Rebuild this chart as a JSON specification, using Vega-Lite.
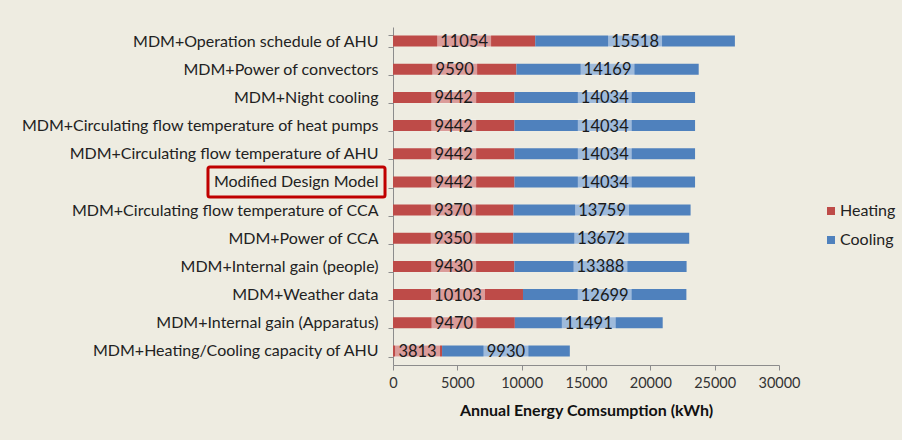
{
  "$schema": "https://vega.github.io/schema/vega-lite/v6.json",
  "width": 386,
  "height": 338,
  "autosize": {"type": "none"},
  "padding": {"left": 393, "top": 27, "right": 123, "bottom": 75},
  "background": "#EEECE1",
  "config": {"view": {"stroke": null}, "font": "Lato"},
  "data": {
    "values": [
      {"label": "MDM+Operation schedule of AHU", "type": "Heating", "value": 11054},
      {"label": "MDM+Operation schedule of AHU", "type": "Cooling", "value": 15518},
      {"label": "MDM+Power of convectors", "type": "Heating", "value": 9590},
      {"label": "MDM+Power of convectors", "type": "Cooling", "value": 14169},
      {"label": "MDM+Night cooling ", "type": "Heating", "value": 9442},
      {"label": "MDM+Night cooling ", "type": "Cooling", "value": 14034},
      {"label": "MDM+Circulating flow temperature of heat pumps", "type": "Heating", "value": 9442},
      {"label": "MDM+Circulating flow temperature of heat pumps", "type": "Cooling", "value": 14034},
      {"label": "MDM+Circulating flow temperature of AHU", "type": "Heating", "value": 9442},
      {"label": "MDM+Circulating flow temperature of AHU", "type": "Cooling", "value": 14034},
      {"label": "Modified Design Model", "type": "Heating", "value": 9442},
      {"label": "Modified Design Model", "type": "Cooling", "value": 14034},
      {"label": "MDM+Circulating flow temperature of CCA", "type": "Heating", "value": 9370},
      {"label": "MDM+Circulating flow temperature of CCA", "type": "Cooling", "value": 13759},
      {"label": "MDM+Power of CCA", "type": "Heating", "value": 9350},
      {"label": "MDM+Power of CCA", "type": "Cooling", "value": 13672},
      {"label": "MDM+Internal gain (people)", "type": "Heating", "value": 9430},
      {"label": "MDM+Internal gain (people)", "type": "Cooling", "value": 13388},
      {"label": "MDM+Weather data", "type": "Heating", "value": 10103},
      {"label": "MDM+Weather data", "type": "Cooling", "value": 12699},
      {"label": "MDM+Internal gain (Apparatus)", "type": "Heating", "value": 9470},
      {"label": "MDM+Internal gain (Apparatus)", "type": "Cooling", "value": 11491},
      {"label": "MDM+Heating/Cooling capacity of AHU", "type": "Heating", "value": 3813},
      {"label": "MDM+Heating/Cooling capacity of AHU", "type": "Cooling", "value": 9930}
    ]
  },
  "encoding": {
    "y": {
      "field": "label",
      "type": "nominal",
      "sort": null,
      "scale": {"paddingInner": 0.6, "paddingOuter": 0.3},
      "axis": {
        "title": null,
        "labelFontSize": 16,
        "labelColor": "#222222",
        "labelLimit": 0,
        "labelPadding": 10,
        "tickSize": 5,
        "tickBand": "extent",
        "tickColor": "#8c8c8c",
        "domainColor": "#8c8c8c"
      }
    },
    "order": {"field": "type", "sort": "descending"}
  },
  "layer": [
    {
      "mark": {"type": "bar", "height": 11},
      "encoding": {
        "x": {
          "field": "value",
          "type": "quantitative",
          "stack": "zero",
          "scale": {"domain": [0, 30000]},
          "axis": {
            "title": "Annual Energy Comsumption (kWh)",
            "titleFontSize": 16,
            "titleFontWeight": "bold",
            "titleColor": "#111111",
            "titlePadding": 13,
            "values": [0, 5000, 10000, 15000, 20000, 25000, 30000],
            "format": "d",
            "grid": false,
            "labelOverlap": false,
            "labelFlush": false,
            "labelFontSize": 14.5,
            "labelColor": "#333333",
            "labelPadding": 6,
            "tickSize": 5,
            "tickColor": "#8c8c8c",
            "domainColor": "#8c8c8c"
          }
        },
        "color": {
          "field": "type",
          "type": "nominal",
          "scale": {"domain": ["Heating", "Cooling"], "range": ["#BE4B48", "#4F81BD"]},
          "legend": {
            "title": null,
            "orient": "none",
            "legendX": 430,
            "legendY": 176,
            "symbolType": "square",
            "symbolSize": 64,
            "symbolStrokeWidth": 0,
            "labelFontSize": 16,
            "labelColor": "#222222",
            "rowPadding": 13,
            "labelOffset": 1
          }
        }
      }
    },
    {
      "mark": {"type": "tick", "thickness": 54, "size": 12, "color": "#ffffff"},
      "encoding": {
        "x": {"field": "value", "type": "quantitative", "stack": "zero", "bandPosition": 0.5},
        "opacity": {"condition": {"test": "datum.value >= 10000", "value": 0.45}, "value": 0}
      }
    },
    {
      "mark": {"type": "tick", "thickness": 45, "size": 12, "color": "#ffffff"},
      "encoding": {
        "x": {"field": "value", "type": "quantitative", "stack": "zero", "bandPosition": 0.5},
        "opacity": {"condition": {"test": "datum.value < 10000", "value": 0.45}, "value": 0}
      }
    },
    {
      "mark": {"type": "text", "fontSize": 16.5, "color": "#1a1a1a", "baseline": "middle", "align": "center", "dy": 1},
      "encoding": {
        "x": {"field": "value", "type": "quantitative", "stack": "zero", "bandPosition": 0.5},
        "text": {"field": "value", "type": "quantitative", "format": "d"}
      }
    },
    {
      "transform": [{"filter": "datum.label === 'Modified Design Model' && datum.type === 'Heating'"}],
      "mark": {"type": "bar", "height": 30, "fill": null, "fillOpacity": 0, "stroke": "#C00000", "strokeWidth": 3, "cornerRadius": 2},
      "encoding": {
        "x": {"datum": -14380},
        "x2": {"datum": -620}
      }
    }
  ]
}
